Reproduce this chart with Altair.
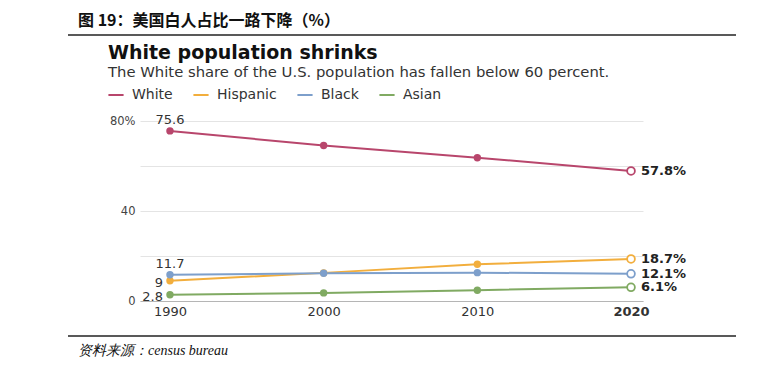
import altair as alt
import pandas as pd

years = [1990, 2000, 2010, 2020]
groups = ["White", "Hispanic", "Black", "Asian"]
white = [75.6, 69.1, 63.7, 57.8]
hispanic = [9.0, 12.5, 16.3, 18.7]
black = [11.7, 12.3, 12.6, 12.1]
asian = [2.8, 3.6, 4.8, 6.1]
colors = ["#b8466c", "#f2ae3d", "#7d9fcb", "#80aa62"]

start_labels = ["75.6", "9", "11.7", "2.8"]
end_labels = ["57.8%", "18.7%", "12.1%", "6.1%"]

header = "图 19：美国白人占比一路下降（%）"
title = "White population shrinks"
subtitle = "The White share of the U.S. population has fallen below 60 percent."
source = "资料来源：census bureau"

series = {"White": white, "Hispanic": hispanic, "Black": black, "Asian": asian}
rows = []
for g in groups:
    for i, y in enumerate(years):
        rows.append({"group": g, "year": y, "value": series[g][i],
                     "last": i == len(years) - 1})
df = pd.DataFrame(rows)

first = df[df["year"] == years[0]].copy()
first["label"] = [start_labels[groups.index(g)] for g in first["group"]]
last = df[df["year"] == years[-1]].copy()
last["label"] = [end_labels[groups.index(g)] for g in last["group"]]

FONT = "DejaVu Sans"
W, H = 503, 180
xscale = alt.Scale(domain=[1988.05, 2020.78], nice=False, zero=False)
yscale = alt.Scale(domain=[0, 80], nice=False)
cscale = alt.Scale(domain=groups, range=colors)

X = alt.X("year:Q", scale=xscale, axis=alt.Axis(
    values=years, format="d", title=None, grid=False, ticks=False,
    domain=True, domainColor="#b5b5b5", domainWidth=1.2,
    labelFontSize=13, labelColor="#333333", labelFont=FONT,
    labelPadding=4,
    labelFontWeight={"condition": {"test": "datum.value == 2020", "value": "bold"}, "value": "normal"},
))
Y = alt.Y("value:Q", scale=yscale, axis=alt.Axis(
    values=[0, 20, 40, 60, 80], title=None, ticks=False, domain=False,
    gridColor="#e4e4e4", gridWidth=1,
    labelExpr="datum.value == 80 ? '80%' : (datum.value == 40 ? '40' : (datum.value == 0 ? '0' : ''))",
    labelFontSize=11.5, labelColor="#444444", labelFont=FONT, labelPadding=5,
))

base = alt.Chart(df)

lines = base.mark_line(strokeWidth=2).encode(
    x=X, y=Y,
    color=alt.Color("group:N", scale=cscale, legend=alt.Legend(
        title=None, orient="none", legendX=-33, legendY=-35, direction="horizontal",
        symbolType="stroke", symbolSize=230, symbolStrokeWidth=2,
        labelFontSize=14, labelFont=FONT, labelColor="#333333",
        labelOffset=7, columnPadding=16,
    )),
    detail="group:N",
)

dots = base.transform_filter("!datum.last").mark_circle(size=55, opacity=1).encode(
    x="year:Q", y="value:Q", color=alt.Color("group:N", scale=cscale, legend=None))

ends = base.transform_filter("datum.last").mark_point(
    shape="circle", size=60, filled=True, fill="white", strokeWidth=1.8, opacity=1
).encode(x="year:Q", y="value:Q",
         stroke=alt.Stroke("group:N", scale=cscale, legend=None))

above = alt.Chart(first[first["group"].isin(["White", "Black"])]).mark_text(
    dy=-4, fontSize=13, font=FONT, color="#333333", baseline="bottom"
).encode(x="year:Q", y="value:Q", text="label:N")

left = alt.Chart(first[first["group"].isin(["Hispanic", "Asian"])]).mark_text(
    dx=-7, dy=2, align="right", fontSize=13, font=FONT, color="#333333",
    baseline="middle"
).encode(x="year:Q", y="value:Q", text="label:N")

endtext = alt.Chart(last).mark_text(
    dx=10, align="left", fontSize=13, font=FONT, fontWeight="bold",
    color="#222222", baseline="middle"
).encode(x="year:Q", y="value:Q", text="label:N")

deco = pd.DataFrame({"k": [0]})
dchart = alt.Chart(deco)
header_t = dchart.mark_text(text=header, align="left", baseline="middle", fontSize=16,
                            font="Noto Sans CJK SC", fontWeight="bold", color="#111111"
                            ).encode(x=alt.value(-62), y=alt.value(-100))
rule_top = dchart.mark_rule(color="#222222", strokeWidth=1.5).encode(
    x=alt.value(-72), x2=alt.value(596), y=alt.value(-86))
title_t = dchart.mark_text(text=title, align="left", baseline="middle", fontSize=19,
                           font=FONT, fontWeight="bold", color="#111111"
                           ).encode(x=alt.value(-32), y=alt.value(-68))
sub_t = dchart.mark_text(text=subtitle, align="left", baseline="middle", fontSize=14.8,
                         font=FONT, color="#333333"
                         ).encode(x=alt.value(-32), y=alt.value(-48))
rule_bot = dchart.mark_rule(color="#222222", strokeWidth=1.5).encode(
    x=alt.value(-72), x2=alt.value(596), y=alt.value(215))
source_t = dchart.mark_text(text=source, align="left", baseline="middle", fontSize=14,
                            font="Liberation Serif", fontStyle="italic", color="#111111"
                            ).encode(x=alt.value(-62), y=alt.value(230))

chart = alt.layer(
    lines, dots, ends, above, left, endtext,
    header_t, rule_top, title_t, sub_t, rule_bot, source_t
).properties(
    width=W, height=H,
    autosize=alt.AutoSizeParams(type="none"),
    padding={"left": 132, "top": 113, "right": 105, "bottom": 62},
    background="white",
).configure_view(stroke=None)

chart.save("out.html", embed_options={"renderer": "svg", "actions": False})
